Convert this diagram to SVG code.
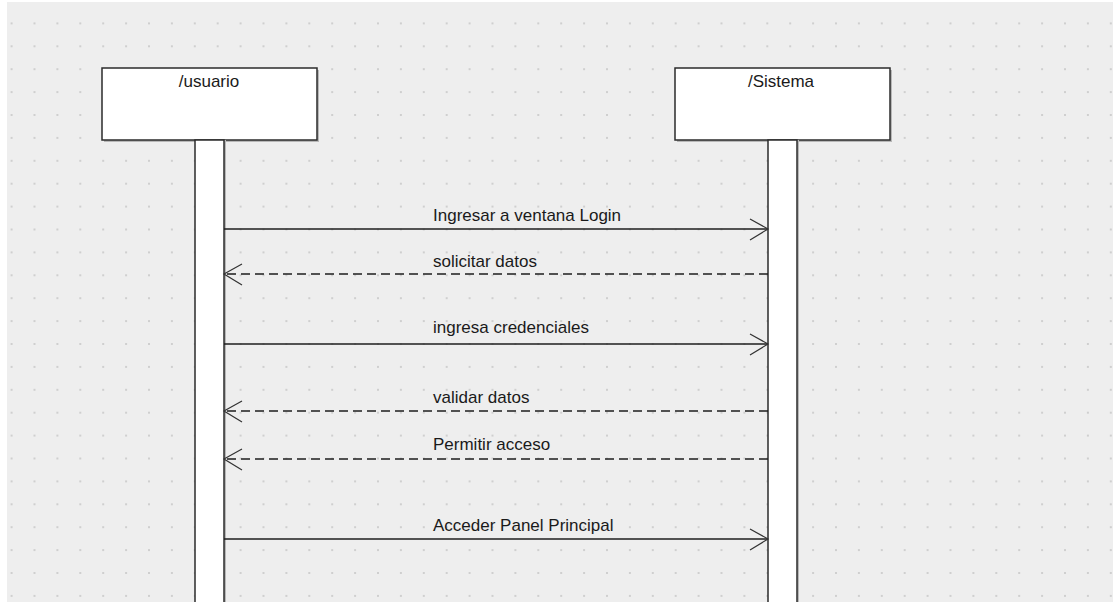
<svg xmlns="http://www.w3.org/2000/svg" width="1113" height="602" viewBox="0 0 1113 602">
  <style>
    .lbl { font-family: "Liberation Sans", Arial, sans-serif; font-size: 17px; fill: #1a1a1a; }
    .head { fill: #ffffff; stroke: #2b2b2b; stroke-width: 1.5; }
    .shadow { fill: #b8b8b8; }
    .bar { fill: #ffffff; stroke: #2b2b2b; stroke-width: 1.5; }
    .msg { stroke: #1e1e1e; stroke-width: 1.5; fill: none; }
    .ret { stroke: #1e1e1e; stroke-width: 1.5; fill: none; stroke-dasharray: 9 5; }
    .tip { stroke: #333333; stroke-width: 1.2; fill: none; }
  </style>
  <defs>
    <pattern id="grid" patternUnits="userSpaceOnUse" x="10.6" y="22.4" width="22.9" height="22.9">
      <rect x="0" y="0" width="2" height="2" fill="#cfcfcf"/>
    </pattern>
  </defs>

  <!-- canvas -->
  <rect x="0" y="0" width="1113" height="602" fill="#ffffff"/>
  <rect x="7" y="2" width="1106" height="600" fill="#eeeeee"/>
  <rect x="7" y="12" width="1106" height="590" fill="url(#grid)"/>

  <!-- lifeline: /usuario -->
  <g id="usuario">
    <rect class="shadow" x="104" y="70" width="215" height="72"/>
    <rect class="head" x="102" y="68" width="215" height="72"/>
    <text class="lbl" x="209" y="87" text-anchor="middle">/usuario</text>
    <rect class="shadow" x="197" y="140" width="29" height="470"/>
    <rect class="bar" x="195" y="140" width="29" height="470"/>
  </g>

  <!-- lifeline: /Sistema -->
  <g id="sistema">
    <rect class="shadow" x="677" y="70" width="215" height="72"/>
    <rect class="head" x="675" y="68" width="215" height="72"/>
    <text class="lbl" x="781" y="87" text-anchor="middle">/Sistema</text>
    <rect class="shadow" x="770" y="140" width="29" height="470"/>
    <rect class="bar" x="768" y="140" width="29" height="470"/>
  </g>

  <!-- messages -->
  <g id="connectors">
    <line class="msg" x1="224" y1="229" x2="768" y2="229"/>
    <polyline class="tip" points="750,219 768,229 750,240"/>
    <text class="lbl" x="433" y="221">Ingresar a ventana Login</text>

    <line class="ret" x1="768" y1="274" x2="224" y2="274"/>
    <polyline class="tip" points="242,264 224,274 242,285"/>
    <text class="lbl" x="433" y="267">solicitar datos</text>

    <line class="msg" x1="224" y1="344" x2="768" y2="344"/>
    <polyline class="tip" points="750,334 768,344 750,355"/>
    <text class="lbl" x="433" y="333">ingresa credenciales</text>

    <line class="ret" x1="768" y1="411" x2="224" y2="411"/>
    <polyline class="tip" points="242,401 224,411 242,422"/>
    <text class="lbl" x="433" y="403">validar datos</text>

    <line class="ret" x1="768" y1="459" x2="224" y2="459"/>
    <polyline class="tip" points="242,449 224,459 242,470"/>
    <text class="lbl" x="433" y="450">Permitir acceso</text>

    <line class="msg" x1="224" y1="539" x2="768" y2="539"/>
    <polyline class="tip" points="750,529 768,539 750,550"/>
    <text class="lbl" x="433" y="531">Acceder Panel Principal</text>
  </g>
</svg>
